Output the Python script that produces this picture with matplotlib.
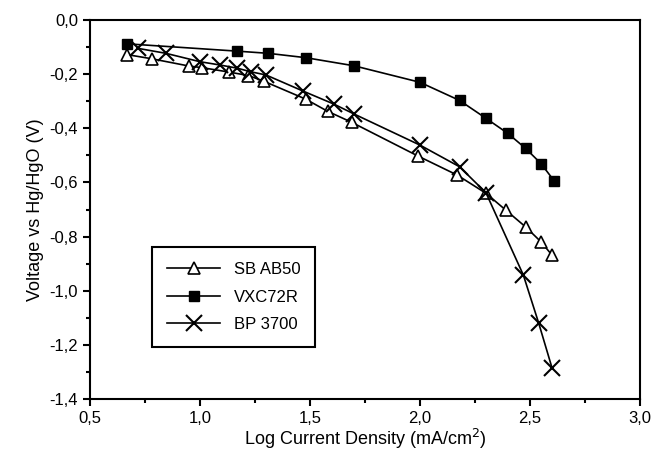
import matplotlib
matplotlib.use('Agg')
import matplotlib.pyplot as plt
from matplotlib.ticker import FuncFormatter, MultipleLocator

plt.rcParams['font.family'] = ['Liberation Sans', 'DejaVu Sans']

# SB AB50 (open triangles)
sb_x = [0.67, 0.78, 0.95, 1.01, 1.13, 1.22, 1.29, 1.48, 1.58, 1.69,
        1.99, 2.17, 2.30, 2.39, 2.48, 2.55, 2.60]
sb_y = [-0.128, -0.143, -0.170, -0.176, -0.192, -0.205, -0.226, -0.292, -0.337, -0.378,
        -0.502, -0.573, -0.640, -0.702, -0.764, -0.819, -0.868]

# VXC72R (filled squares)
vx_x = [0.67, 1.17, 1.31, 1.48, 1.70, 2.00, 2.18, 2.30, 2.40, 2.48, 2.55, 2.61]
vx_y = [-0.088, -0.115, -0.123, -0.139, -0.169, -0.230, -0.297, -0.363, -0.419, -0.474,
        -0.530, -0.594]

# BP 3700 (crosses)
bp_x = [0.72, 0.845, 1.00, 1.09, 1.17, 1.23, 1.30, 1.47, 1.61, 1.70,
        2.00, 2.18, 2.30, 2.47, 2.54, 2.60]
bp_y = [-0.105, -0.123, -0.154, -0.166, -0.178, -0.191, -0.203, -0.263, -0.311, -0.347,
        -0.462, -0.542, -0.638, -0.942, -1.120, -1.284]

fig = plt.figure(figsize=(6.57, 4.55), dpi=100)
ax = fig.add_axes([0.137, 0.123, 0.837, 0.833])

ax.plot(sb_x, sb_y, color='black', lw=1.2, marker='^', ms=8, mfc='white',
        mec='black', mew=1.2, label='SB AB50')
ax.plot(vx_x, vx_y, color='black', lw=1.2, marker='s', ms=7, mfc='black',
        mec='black', label='VXC72R')
ax.plot(bp_x, bp_y, color='black', lw=1.2, marker='x', ms=11, mew=1.5,
        mec='black', label='BP 3700')

ax.set_xlim(0.5, 3.0)
ax.set_ylim(-1.4, 0.0)
ax.xaxis.set_major_locator(MultipleLocator(0.5))
ax.xaxis.set_minor_locator(MultipleLocator(0.25))
ax.yaxis.set_major_locator(MultipleLocator(0.2))
ax.yaxis.set_minor_locator(MultipleLocator(0.1))
comma = FuncFormatter(lambda v, p: f'{v:.1f}'.replace('.', ',').replace('-0,0', '0,0'))
ax.xaxis.set_major_formatter(comma)
ax.yaxis.set_major_formatter(comma)

ax.tick_params(which='both', direction='out', top=False, right=False, width=1.5)
ax.tick_params(which='major', length=5, labelsize=12)
ax.tick_params(which='minor', length=3)
for s in ax.spines.values():
    s.set_linewidth(1.5)

ax.set_xlabel('Log Current Density (mA/cm$^2$)', fontsize=13, labelpad=1)
ax.set_ylabel('Voltage vs Hg/HgO (V)', fontsize=13, labelpad=4)

leg = ax.legend(loc='lower left', bbox_to_anchor=(0.113, 0.137), borderaxespad=0,
                fontsize=12, fancybox=False, edgecolor='black', framealpha=1,
                handlelength=3.2, labelspacing=0.75, borderpad=0.9)
leg.get_frame().set_linewidth(1.5)

fig.savefig('out.png', dpi=100)
